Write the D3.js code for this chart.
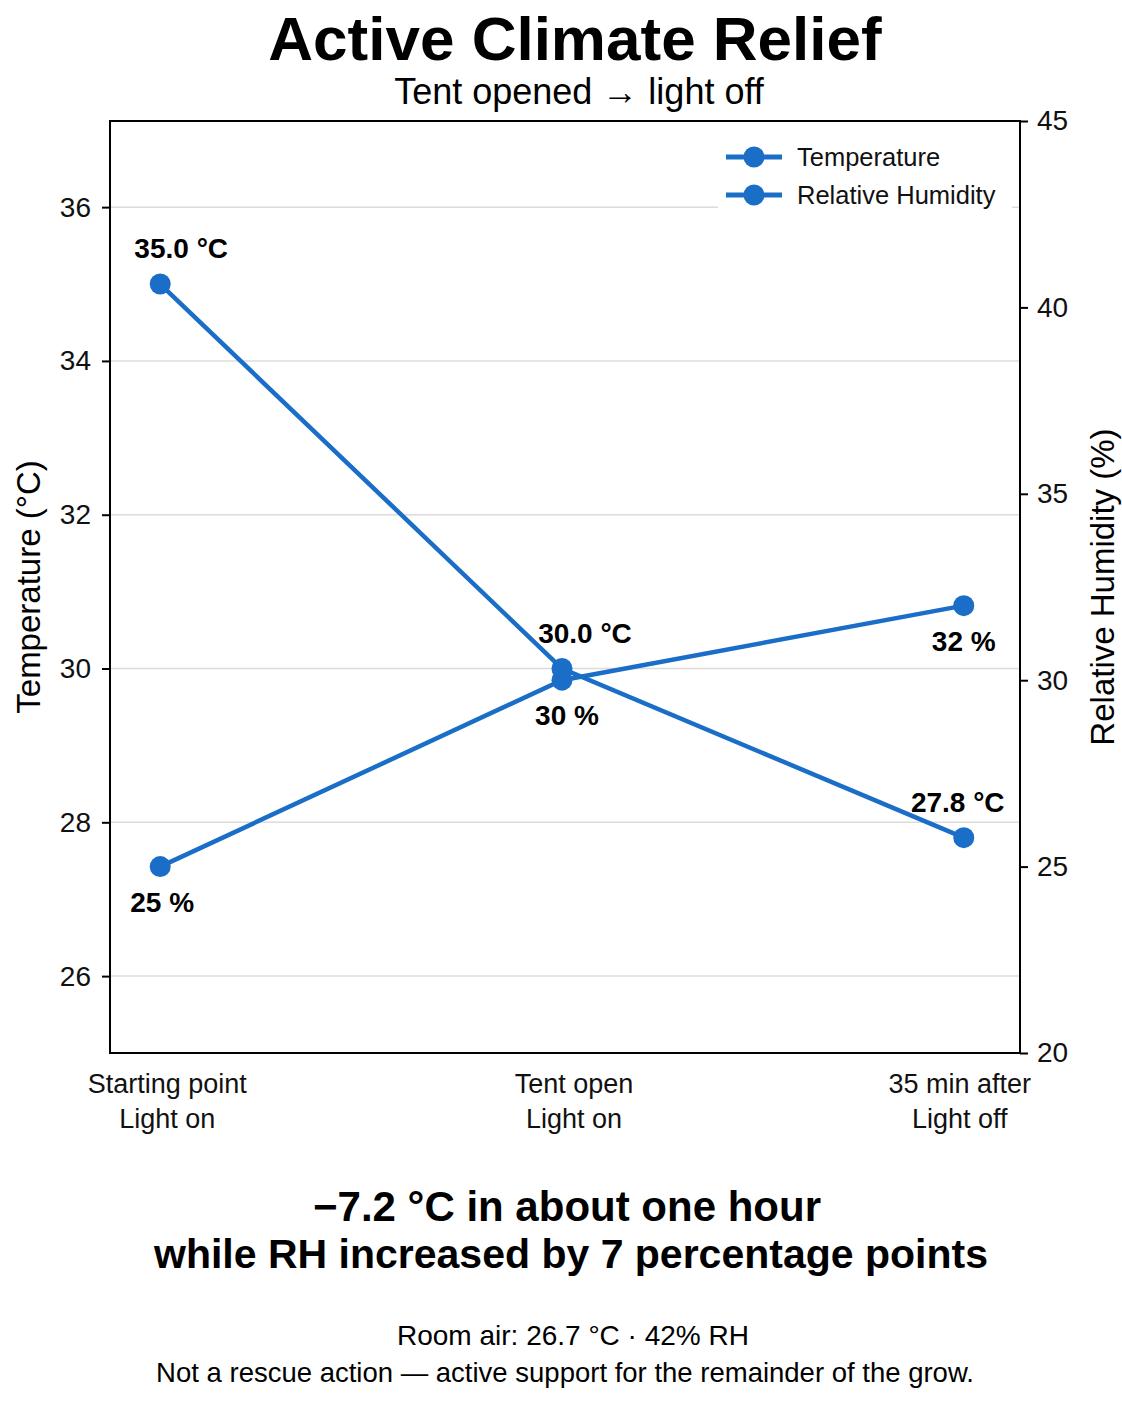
<!DOCTYPE html>
<html>
<head>
<meta charset="utf-8">
<script src="https://cdn.jsdelivr.net/npm/d3@7"></script>
<style>
    html, body { margin: 0; padding: 0; background: #fff; }
    svg { display: block; font-family: "Liberation Sans", Arial, sans-serif; }
    .grid line { stroke: #dcdcdc; stroke-width: 1.5; }
    .axis path { display: none; }
    .axis line { stroke: #000; stroke-width: 2; }
    .axis text { font-size: 28px; fill: #111; }
</style>
</head>
<body>
<svg id="chart" width="1122" height="1402"></svg>
<script>
/**
 * Active Climate Relief - Temperatur und rel. Luftfeuchte, zwei y-Achsen
 */

// Daten
const categories = [
    ['Starting point', 'Light on'],
    ['Tent open', 'Light on'],
    ['35 min after', 'Light off']
];
const temperature = [35.0, 30.0, 27.8];
const humidity = [25, 30, 32];
const tempTicks = [26, 28, 30, 32, 34, 36];
const rhTicks = [20, 25, 30, 35, 40, 45];
const seriesNames = ['Temperature', 'Relative Humidity'];

const BLUE = '#1a6ec8';

// Versatz der Beschriftungen (px)
const tempLabelDx = [21, 23, -6];
const rhLabelDx = [2, 5, 0];
const catLabelDx = [7, 12, -4];

const svg = d3.select('#chart');
const plot = { left: 110, right: 1020, top: 121, bottom: 1053 };

// Skalen
const xScale = d3.scaleLinear()
    .domain([-0.125, 2.14])
    .range([plot.left, plot.right]);

const yTemp = d3.scaleLinear()
    .domain([25, 37.12])
    .range([plot.bottom, plot.top]);

const yRh = d3.scaleLinear()
    .domain([20, 45])
    .range([plot.bottom, plot.top]);

// Titel
svg.append('text')
    .attr('x', 575).attr('y', 60)
    .attr('text-anchor', 'middle')
    .style('font-size', '62px').style('font-weight', 'bold')
    .text('Active Climate Relief');

svg.append('text')
    .attr('x', 579).attr('y', 104)
    .attr('text-anchor', 'middle')
    .style('font-size', '36px')
    .text('Tent opened \u2192 light off');

// Gitterlinien (linke Achse)
svg.append('g')
    .attr('class', 'grid')
    .selectAll('line')
    .data(tempTicks)
    .enter()
    .append('line')
    .attr('x1', plot.left)
    .attr('x2', plot.right)
    .attr('y1', d => yTemp(d))
    .attr('y2', d => yTemp(d));

// Achsen
svg.append('g')
    .attr('class', 'axis y-axis')
    .attr('transform', `translate(${plot.left},0)`)
    .call(d3.axisLeft(yTemp).tickValues(tempTicks).tickSize(8).tickPadding(11));

svg.append('g')
    .attr('class', 'axis y-axis-right')
    .attr('transform', `translate(${plot.right},0)`)
    .call(d3.axisRight(yRh).tickValues(rhTicks).tickSize(8).tickPadding(9));

// Rahmen
svg.append('rect')
    .attr('x', plot.left)
    .attr('y', plot.top)
    .attr('width', plot.right - plot.left)
    .attr('height', plot.bottom - plot.top)
    .style('fill', 'none')
    .style('stroke', '#000')
    .style('stroke-width', 2);

// x-Beschriftungen (zweizeilig)
const xLabels = svg.append('g').attr('class', 'x-labels');
categories.forEach((lines, i) => {
    const t = xLabels.append('text')
        .attr('text-anchor', 'middle')
        .style('font-size', '27px')
        .style('fill', '#111');
    lines.forEach((line, j) => {
        t.append('tspan')
            .attr('x', xScale(i) + catLabelDx[i])
            .attr('y', 1093 + j * 35)
            .text(line);
    });
});

// Achsentitel
svg.append('text')
    .attr('transform', `translate(40,${(plot.top + plot.bottom) / 2}) rotate(-90)`)
    .attr('text-anchor', 'middle')
    .style('font-size', '33px')
    .text('Temperature (\u00b0C)');

svg.append('text')
    .attr('transform', `translate(1114,${(plot.top + plot.bottom) / 2}) rotate(-90)`)
    .attr('text-anchor', 'middle')
    .style('font-size', '33px')
    .text('Relative Humidity (%)');

// Linien zeichnen
function drawSeries(values, yScale) {
    const line = d3.line()
        .x((d, i) => xScale(i))
        .y(d => yScale(d));

    const g = svg.append('g');
    g.append('path')
        .datum(values)
        .attr('d', line)
        .style('fill', 'none')
        .style('stroke', BLUE)
        .style('stroke-width', 4.5);

    g.selectAll('circle')
        .data(values)
        .enter()
        .append('circle')
        .attr('cx', (d, i) => xScale(i))
        .attr('cy', d => yScale(d))
        .attr('r', 10.5)
        .style('fill', BLUE);
}

drawSeries(temperature, yTemp);
drawSeries(humidity, yRh);

// Wertebeschriftungen
svg.append('g')
    .selectAll('text')
    .data(temperature)
    .enter()
    .append('text')
    .attr('x', (d, i) => xScale(i) + tempLabelDx[i])
    .attr('y', d => yTemp(d) - 26)
    .attr('text-anchor', 'middle')
    .style('font-size', '28px')
    .style('font-weight', 'bold')
    .text(d => `${d.toFixed(1)} \u00b0C`);

svg.append('g')
    .selectAll('text')
    .data(humidity)
    .enter()
    .append('text')
    .attr('x', (d, i) => xScale(i) + rhLabelDx[i])
    .attr('y', d => yRh(d) + 45)
    .attr('text-anchor', 'middle')
    .style('font-size', '28px')
    .style('font-weight', 'bold')
    .text(d => `${d.toFixed(0)} %`);

// Legende
const legend = svg.append('g')
    .attr('class', 'legend')
    .attr('transform', 'translate(718,135)');

legend.append('rect')
    .attr('width', 294)
    .attr('height', 80)
    .style('fill', '#fff');

seriesNames.forEach((name, i) => {
    const item = legend.append('g')
        .attr('transform', `translate(0, ${22 + i * 38})`);

    item.append('line')
        .attr('x1', 8).attr('x2', 64)
        .attr('y1', 0).attr('y2', 0)
        .style('stroke', BLUE)
        .style('stroke-width', 5);

    item.append('circle')
        .attr('cx', 36).attr('cy', 0)
        .attr('r', 10.5)
        .style('fill', BLUE);

    item.append('text')
        .attr('x', 79)
        .attr('y', 9)
        .style('font-size', '25.5px')
        .style('fill', '#111')
        .text(name);
});

// Fazit unten
svg.append('text')
    .attr('x', 567).attr('y', 1221)
    .attr('text-anchor', 'middle')
    .style('font-size', '42px').style('font-weight', 'bold')
    .text('\u22127.2 \u00b0C in about one hour');

svg.append('text')
    .attr('x', 571).attr('y', 1268)
    .attr('text-anchor', 'middle')
    .style('font-size', '41px').style('font-weight', 'bold')
    .text('while RH increased by 7 percentage points');

svg.append('text')
    .attr('x', 573).attr('y', 1345)
    .attr('text-anchor', 'middle')
    .style('font-size', '28px')
    .text('Room air: 26.7 \u00b0C \u00b7 42% RH');

svg.append('text')
    .attr('x', 565).attr('y', 1382)
    .attr('text-anchor', 'middle')
    .style('font-size', '27.5px')
    .text('Not a rescue action \u2014 active support for the remainder of the grow.');
</script>
</body>
</html>
